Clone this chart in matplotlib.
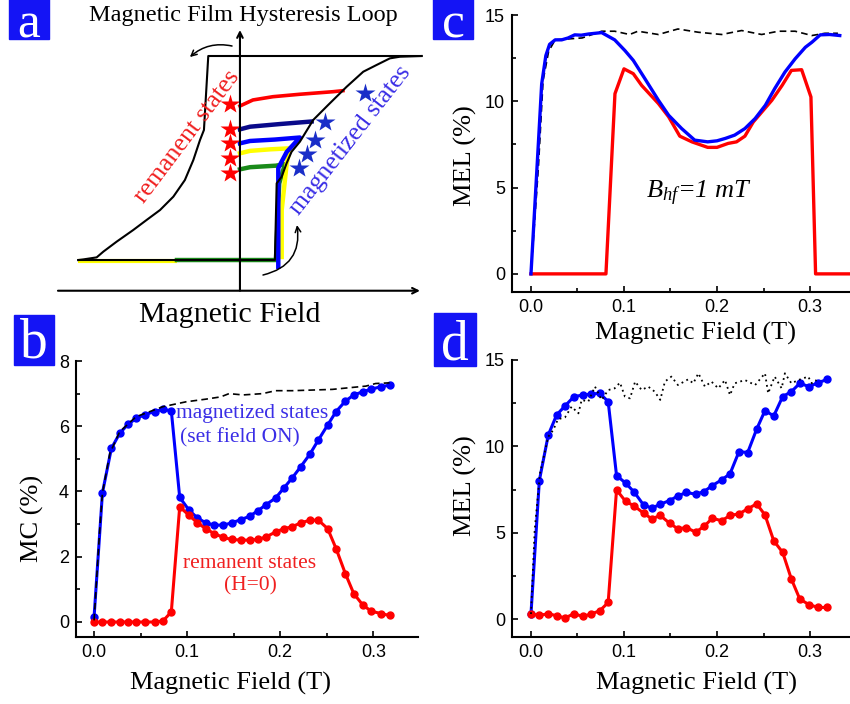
import matplotlib
matplotlib.use('Agg')
import matplotlib.pyplot as plt
from matplotlib.patches import Rectangle
from matplotlib.ticker import MultipleLocator

plt.rcParams['font.family'] = ['Liberation Serif', 'DejaVu Serif']
plt.rcParams['mathtext.fontset'] = 'custom'
plt.rcParams['mathtext.it'] = 'Liberation Serif:italic'
plt.rcParams['mathtext.rm'] = 'Liberation Serif'

BLUE = '#0000ff'
RED = '#ff0000'
BOX = '#1414f5'
TXT_BLUE = '#3a2ee6'
TXT_RED = '#f02020'

# ---- panel a: hysteresis loop sketch (field H, magnetization M, normalised) ----
desc_H = [1.009, -0.176, -0.2, -0.222, -0.259, -0.306, -0.37, -0.444, -0.519,
          -0.593, -0.685, -0.759, -0.796, -0.87, -0.898]
desc_M = [1.0, 1.0, 0.275, 0.176, -0.02, -0.216, -0.379, -0.51, -0.608,
          -0.706, -0.82, -0.918, -0.974, -0.994, -1.0]
asc_H = [-0.898, 0.194, 0.204, 0.232, 0.259, 0.287, 0.333, 0.407, 0.49,
         0.593, 0.685, 0.759, 0.833, 0.889, 1.009]
asc_M = [-1.0, -1.0, -0.248, -0.183, -0.052, 0.062, 0.16, 0.373, 0.52,
         0.699, 0.846, 0.912, 0.977, 0.993, 1.0]

red_H = [0, 0.072, 0.183, 0.333, 0.517, 0.572]
red_M = [0.51, 0.569, 0.601, 0.625, 0.65, 0.66]
navy_H = [0, 0.056, 0.222, 0.398]
navy_M = [0.281, 0.307, 0.333, 0.358]
blue_H = [0.213, 0.213, 0.26, 0.333, 0.194, 0.056, 0]
blue_M = [-1.066, -0.098, 0.06, 0.201, 0.181, 0.167, 0.144]
yel_H = [0.232, 0.232, 0.26, 0.278, 0.167, 0.056, 0]
yel_M = [-0.97, -0.51, -0.05, 0.095, 0.085, 0.07, 0.046]
yel_bot_H = [-0.9, -0.35]
yel_bot_M = [-1.01, -1.01]
grn_H = [-0.35, 0.2, 0.218, 0.24, 0.25, 0.2, 0.056, 0]
grn_M = [-1.0, -1.0, -0.25, -0.12, -0.06, -0.075, -0.09, -0.111]

rstar_H = [-0.056] * 5
rstar_M = [0.53, 0.281, 0.144, -0.003, -0.15]
bstar_H = [0.694, 0.472, 0.417, 0.37, 0.329]
bstar_M = [0.64, 0.356, 0.176, 0.039, -0.101]

# ---- panel b: MC (%) vs field (T) ----
b_x = [0.0, 0.009, 0.0186, 0.0275, 0.0364, 0.0454, 0.055, 0.065, 0.074, 0.083,
       0.092, 0.102, 0.111, 0.12, 0.129, 0.139, 0.148, 0.158, 0.167, 0.176,
       0.185, 0.195, 0.204, 0.213, 0.222, 0.232, 0.241, 0.251, 0.26, 0.27,
       0.279, 0.289, 0.298, 0.308, 0.3175]
b_on = [0.15, 3.96, 5.32, 5.78, 6.06, 6.24, 6.36, 6.45, 6.52, 6.47,
        3.82, 3.43, 3.19, 3.04, 2.97, 2.97, 3.04, 3.14, 3.24, 3.41,
        3.6, 3.8, 4.11, 4.42, 4.76, 5.15, 5.58, 6.04, 6.45, 6.77,
        6.96, 7.06, 7.14, 7.21, 7.26]
b_rem = [0.0, 0.0, 0.0, 0.0, 0.0, 0.0, 0.0, 0.0, 0.03, 0.31,
         3.53, 3.27, 3.04, 2.86, 2.71, 2.59, 2.53, 2.51, 2.51, 2.53,
         2.61, 2.76, 2.86, 2.92, 3.04, 3.12, 3.12, 2.86, 2.25, 1.48,
         0.87, 0.51, 0.33, 0.26, 0.2]
b_ref_x = [0.0, 0.006, 0.009, 0.017, 0.0275, 0.045, 0.074, 0.099, 0.12, 0.136,
           0.145, 0.16, 0.181, 0.195, 0.213, 0.235, 0.256, 0.2775, 0.292, 0.3025, 0.3175]
b_ref = [0.05, 2.8, 3.96, 5.17, 5.83, 6.29, 6.6, 6.75, 6.83, 6.9,
         7.0, 6.96, 7.0, 7.09, 7.09, 7.11, 7.13, 7.19, 7.23, 7.31, 7.33]

# ---- panel c: MEL (%) simulated, B_hf = 1 mT ----
c_on_x = [0.0, 0.008, 0.0115, 0.016, 0.02, 0.026, 0.033, 0.04, 0.047, 0.054,
          0.062, 0.076, 0.09, 0.101, 0.11, 0.1226, 0.137, 0.148, 0.162, 0.176,
          0.19, 0.2, 0.209, 0.219, 0.23, 0.241, 0.252, 0.262, 0.273, 0.284,
          0.295, 0.302, 0.311, 0.321, 0.332]
c_on = [0.0, 7.6, 11.0, 12.65, 13.3, 13.56, 13.56, 13.67, 13.85, 13.83,
        13.9, 13.98, 13.56, 12.94, 12.37, 11.3, 10.06, 9.19, 8.42, 7.75,
        7.65, 7.71, 7.85, 8.04, 8.42, 9.0, 9.77, 10.73, 11.69, 12.46,
        13.13, 13.42, 13.85, 13.87, 13.81]
c_rem_x = [0.0, 0.0806, 0.0903, 0.1, 0.11, 0.119, 0.137, 0.148, 0.16, 0.173,
           0.19, 0.2, 0.212, 0.221, 0.23, 0.239, 0.259, 0.27, 0.28, 0.291,
           0.301, 0.306, 0.343]
c_rem = [0.0, 0.0, 10.44, 11.88, 11.6, 10.92, 9.87, 9.1, 7.98, 7.65,
         7.33, 7.33, 7.56, 7.65, 7.98, 8.8, 10.06, 10.92, 11.79, 11.83,
         10.25, 0.0, 0.0]
c_ref_x = [0.0, 0.008, 0.013, 0.019, 0.026, 0.055, 0.076, 0.09, 0.106, 0.115,
           0.137, 0.158, 0.18, 0.205, 0.2265, 0.248, 0.266, 0.284, 0.302, 0.316, 0.33]
c_ref = [0.0, 6.2, 11.2, 12.9, 13.56, 13.67, 14.06, 14.06, 13.87, 14.06,
         13.87, 14.19, 14.0, 13.87, 14.1, 13.87, 14.06, 14.06, 13.81, 13.94, 13.94]

# ---- panel d: MEL (%) measured ----
d_x = [0.0, 0.009, 0.0186, 0.0276, 0.0366, 0.0462, 0.0556, 0.0645, 0.074, 0.083,
       0.092, 0.1018, 0.111, 0.121, 0.13, 0.139, 0.149, 0.158, 0.167, 0.177,
       0.186, 0.195, 0.205, 0.214, 0.2237, 0.233, 0.2426, 0.2516, 0.261, 0.2706,
       0.28, 0.289, 0.299, 0.309, 0.3186]
d_on = [0.29, 8.02, 10.66, 11.82, 12.34, 12.88, 12.97, 13.03, 13.07, 12.59,
        8.31, 7.87, 7.35, 6.61, 6.42, 6.65, 6.86, 7.13, 7.33, 7.23,
        7.38, 7.73, 8.06, 8.41, 9.7, 9.64, 10.99, 12.07, 11.76, 12.88,
        13.17, 13.65, 13.46, 13.69, 13.88]
d_rem = [0.29, 0.21, 0.31, 0.19, 0.06, 0.31, 0.15, 0.29, 0.48, 0.96,
         7.48, 6.81, 6.55, 6.13, 5.8, 6.0, 5.55, 5.22, 5.3, 5.03,
         5.36, 5.84, 5.69, 6.0, 6.09, 6.38, 6.67, 6.03, 4.53, 3.86,
         2.31, 1.16, 0.83, 0.67, 0.67]
d_ref_x = [0.0, 0.004, 0.0097, 0.0186, 0.024, 0.029, 0.0366, 0.0437, 0.051, 0.0545,
           0.0616, 0.0688, 0.076, 0.083, 0.09, 0.0957, 0.101, 0.1065, 0.112, 0.119,
           0.126, 0.133, 0.139, 0.144, 0.151, 0.158, 0.169, 0.1745, 0.18, 0.187,
           0.194, 0.2014, 0.2086, 0.214, 0.219, 0.23, 0.241, 0.2516, 0.255, 0.262,
           0.2695, 0.273, 0.28, 0.2875, 0.298, 0.302, 0.307]
d_ref = [0.29, 5.17, 8.44, 10.56, 10.95, 11.57, 11.68, 12.3, 11.91, 12.69,
         12.59, 13.46, 12.69, 13.26, 13.36, 13.69, 12.88, 12.78, 13.75, 13.26,
         13.46, 13.17, 12.69, 13.75, 14.04, 13.55, 13.88, 13.65, 14.23, 13.46,
         13.75, 13.36, 13.84, 12.97, 13.65, 13.84, 13.55, 14.23, 13.07, 14.04,
         13.36, 14.23, 13.65, 13.84, 14.04, 13.65, 13.84]

W, H = 850, 704
fig = plt.figure(figsize=(W / 100, H / 100), dpi=100)


def px_axes(left, top, right, bottom):
    return fig.add_axes([left / W, 1 - bottom / H, (right - left) / W, (bottom - top) / H])


def style_axes(ax, ymajor, yminor):
    for s in ['top', 'right']:
        ax.spines[s].set_visible(False)
    for s in ['left', 'bottom']:
        ax.spines[s].set_linewidth(1.5)
    ax.xaxis.set_major_locator(MultipleLocator(0.1))
    ax.xaxis.set_minor_locator(MultipleLocator(0.05))
    ax.yaxis.set_major_locator(MultipleLocator(ymajor))
    ax.yaxis.set_minor_locator(MultipleLocator(yminor))
    ax.tick_params(which='both', direction='in', width=1.2, top=False, right=False,
                   labelsize=13, pad=5)
    ax.tick_params(which='major', length=4.5)
    ax.tick_params(which='minor', length=3)
    for lab in ax.get_xticklabels() + ax.get_yticklabels():
        lab.set_family('Liberation Sans')
    ax.xaxis.set_major_formatter(matplotlib.ticker.FormatStrFormatter('%.1f'))


def set_labels(ax, xl, yl, xpos, ypos):
    ax.set_xlabel(xl, fontsize=19, va='baseline')
    ax.set_ylabel(yl, fontsize=19, va='center')
    ax.xaxis.set_label_coords(*xpos)
    ax.yaxis.set_label_coords(*ypos)


# panel a
axa = px_axes(0, 0, 425, 330)
axa.set_xlim(-1.333, 1.028)
axa.set_ylim(-1.686, 1.549)
axa.axis('off')
axa.annotate('', xy=(1.0, -1.301), xytext=(-1.011, -1.301),
             arrowprops=dict(arrowstyle='->', lw=1.5, color='black', shrinkA=0, shrinkB=0))
axa.annotate('', xy=(0, 1.255), xytext=(0, -1.301),
             arrowprops=dict(arrowstyle='->', lw=1.5, color='black', shrinkA=0, shrinkB=0))
axa.plot(yel_bot_H, yel_bot_M, color='#ffff00', lw=3, solid_capstyle='butt')
axa.plot(grn_H, grn_M, color='#1a8a1a', lw=3.2)
axa.plot(yel_H, yel_M, color='#ffff00', lw=3.2)
axa.plot(blue_H, blue_M, color=BLUE, lw=3.2)
axa.plot(navy_H, navy_M, color='#0a0a8a', lw=3.2)
axa.plot(red_H, red_M, color=RED, lw=2.6)
axa.plot(desc_H, desc_M, color='black', lw=1.5)
axa.plot(asc_H, asc_M, color='black', lw=1.5)
axa.plot(rstar_H, rstar_M, ls='none', marker='*', ms=15, color=RED, mec='none')
axa.plot(bstar_H, bstar_M, ls='none', marker='*', ms=15, color='#1a2ec8', mec='none')
axa.annotate('', xy=(-0.278, 0.99), xytext=(-0.044, 1.098),
             arrowprops=dict(arrowstyle='->', lw=1.1, color='black',
                             connectionstyle='arc3,rad=0.25', shrinkA=0, shrinkB=0))
axa.annotate('', xy=(0.317, -0.657), xytext=(0.128, -1.147),
             arrowprops=dict(arrowstyle='->', lw=1.1, color='black',
                             connectionstyle='arc3,rad=0.45', shrinkA=0, shrinkB=0))
axa.text(-0.294, 0.206, 'remanent states', color=TXT_RED, fontsize=18.5,
         rotation=53, ha='center', va='center', rotation_mode='anchor')
axa.text(0.611, 0.176, 'magnetized states', color=TXT_BLUE, fontsize=18.5,
         rotation=52, ha='center', va='center', rotation_mode='anchor')
fig.text(243 / W, 1 - 21 / H, 'Magnetic Film Hysteresis Loop', fontsize=17.5,
         ha='center', va='baseline')
fig.text(230 / W, 1 - 322 / H, 'Magnetic Field', fontsize=21.5, ha='center', va='baseline')

# panel b
axb = px_axes(76, 361, 418, 637)
axb.plot(b_ref_x, b_ref, color='black', lw=1.2, ls=(0, (4, 2.5)), zorder=3)
axb.plot(b_x, b_on, color=BLUE, lw=2.2, marker='o', ms=5, zorder=2)
axb.plot(b_x, b_rem, color=RED, lw=2.2, marker='o', ms=5, zorder=2)
axb.set_xlim(-0.0194, 0.348)
axb.set_ylim(-0.46, 8)
style_axes(axb, 2, 1)
set_labels(axb, 'Magnetic Field (T)', 'MC (%)', (0.453, -0.192), (-0.126, 0.431))
axb.text(0.1696, 6.26, 'magnetized states', color=TXT_BLUE, fontsize=15.5,
         ha='center', va='baseline')
axb.text(0.157, 5.49, '(set field ON)', color=TXT_BLUE, fontsize=15.5,
         ha='center', va='baseline')
axb.text(0.1667, 1.66, 'remanent states', color=TXT_RED, fontsize=15.5,
         ha='center', va='baseline')
axb.text(0.168, 0.98, '(H=0)', color=TXT_RED, fontsize=15.5, ha='center', va='baseline')

# panel c
axc = px_axes(512, 15, 850, 292)
axc.plot(c_ref_x, c_ref, color='black', lw=1.2, ls=(0, (4, 2.5)), zorder=1)
axc.plot(c_rem_x, c_rem, color=RED, lw=2.4, zorder=2)
axc.plot(c_on_x, c_on, color=BLUE, lw=2.4, zorder=3)
axc.set_xlim(-0.0204, 0.343)
axc.set_ylim(-1.05, 15)
style_axes(axc, 5, 2.5)
set_labels(axc, 'Magnetic Field (T)', 'MEL (%)', (0.544, -0.173), (-0.139, 0.491))
axc.text(0.1806, 4.4, r'$B_{hf}$=1 $mT$', fontsize=19, style='italic',
         ha='center', va='baseline')

# panel d
axd = px_axes(512, 360, 850, 637)
axd.plot(d_ref_x, d_ref, color='black', lw=1.3, ls=(0, (1, 2)), zorder=3)
axd.plot(d_x, d_on, color=BLUE, lw=2.2, marker='o', ms=5, zorder=2)
axd.plot(d_x, d_rem, color=RED, lw=2.2, marker='o', ms=5, zorder=2)
axd.set_xlim(-0.0204, 0.343)
axd.set_ylim(-1.04, 15)
style_axes(axd, 5, 2.5)
set_labels(axd, 'Magnetic Field (T)', 'MEL (%)', (0.547, -0.191), (-0.139, 0.545))

# panel letters
for letter, (l, t, r, b), base, size in [('a', (9, -2, 49, 39), 37, 37),
                                         ('b', (14, 315, 54, 365), 358, 40),
                                         ('c', (433, -2, 473, 39), 37, 37),
                                         ('d', (434, 313, 476, 366), 360, 40)]:
    fig.patches.append(Rectangle((l / W, 1 - b / H), (r - l) / W, (b - t) / H,
                                 transform=fig.transFigure, color=BOX, zorder=5))
    fig.text((l + r) / 2 / W, 1 - base / H, letter, color='white', fontsize=size,
             ha='center', va='baseline', zorder=6)

fig.savefig('out.png', dpi=100)
